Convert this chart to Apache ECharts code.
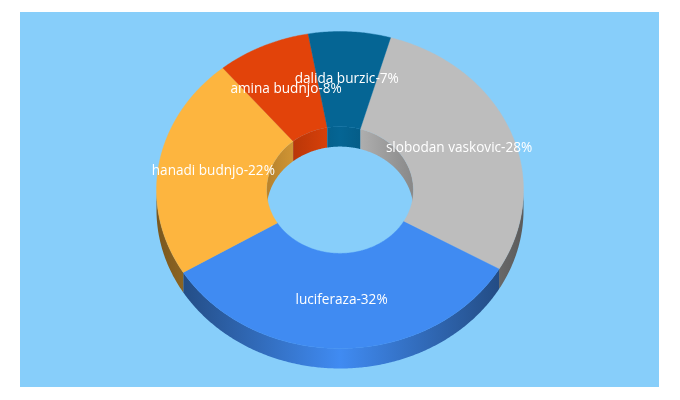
<!DOCTYPE html>
<html>
<head>
<meta charset="utf-8">
<style>html,body{margin:0;padding:0;background:#fff}#main{width:680px;height:400px}</style>
<script src="https://cdn.jsdelivr.net/npm/echarts@6/dist/echarts.min.js"></script>
</head>
<body>
<div id="main"></div>
<script>
var sliceNames = ['slobodan vaskovic', 'luciferaza', 'hanadi budnjo', 'amina budnjo', 'dalida burzic'];
var sliceValues = [28, 32, 22, 8, 7];
var sliceColors = ['#bdbdbd', '#408bf2', '#fdb53f', '#e2430a', '#056594'];

var startAngle = 16, cx = 340, cy = 190, rx = 183.5, ry = 158.5, holeRatio = 0.4, depth = 20;
var total = sliceValues.reduce(function (a, b) { return a + b; }, 0);
var chart = echarts.init(document.getElementById('main'), null, { renderer: 'canvas' });

function shade(hex, f) {
  var n = parseInt(hex.slice(1), 16);
  return 'rgb(' + [n >> 16, (n >> 8) & 255, n & 255].map(function (c) { return Math.round(c * f); }).join(',') + ')';
}
function range(i) {
  var s = 0;
  for (var k = 0; k < i; k++) s += sliceValues[k];
  return [startAngle + s / total * 360, startAngle + (s + sliceValues[i]) / total * 360];
}
function pt(a, k, dy) {
  var t = a * Math.PI / 180;
  return [cx + rx * k * Math.sin(t), cy + (dy || 0) - ry * k * Math.cos(t)];
}
function arc(a0, a1, k, dy) {
  var pts = [], n = Math.max(2, Math.ceil(Math.abs(a1 - a0) * 2));
  for (var i = 0; i <= n; i++) pts.push(pt(a0 + (a1 - a0) * i / n, k, dy));
  return pts;
}
function wallGradient(color, k, edge) {
  return new echarts.graphic.LinearGradient(cx - rx * k, 0, cx + rx * k, 0, [
    { offset: 0, color: shade(color, edge) },
    { offset: 0.5, color: color },
    { offset: 1, color: shade(color, edge) }
  ], true);
}
function wallsFor(i) {
  var r = range(i), c = sliceColors[i], kids = [];
  [[90, 270]].forEach(function (w) {
    var a0 = Math.max(r[0], w[0]), a1 = Math.min(r[1], w[1]);
    if (a1 > a0) kids.push({
      type: 'polygon',
      shape: { points: arc(a0, a1, 1, 0).concat(arc(a1, a0, 1, depth)) },
      style: { fill: wallGradient(c, 1, 0.48) }
    });
  });
  [[-90, 90], [270, 450]].forEach(function (w) {
    var a0 = Math.max(r[0], w[0]), a1 = Math.min(r[1], w[1]);
    if (a1 > a0) kids.push({
      type: 'polygon',
      shape: { points: arc(a0, a1, holeRatio, 0).concat(arc(a1, a0, holeRatio, depth)) },
      style: { fill: wallGradient(c, holeRatio, 0.72) }
    });
  });
  return { type: 'group', children: kids };
}
function topFor(i) {
  var r = range(i);
  return {
    type: 'polygon',
    shape: { points: arc(r[0], r[1], 1, 0).concat(arc(r[1], r[0], holeRatio, 0)) },
    style: { fill: sliceColors[i], stroke: sliceColors[i], lineWidth: 0.4 }
  };
}
function labelFor(i) {
  var r = range(i), p = pt((r[0] + r[1]) / 2, 0.7, -0.5);
  return {
    type: 'text',
    style: {
      text: sliceNames[i] + '-' + sliceValues[i] + '%',
      x: p[0], y: p[1], align: 'center', verticalAlign: 'middle',
      fill: '#ffffff', font: '13.6px "Open Sans"'
    }
  };
}
var seriesData = sliceValues.map(function (v, i) { return [i, v]; });

chart.setOption({
  animation: false,
  backgroundColor: '#ffffff',
  graphic: [{ type: 'rect', z: -10, shape: { x: 20, y: 12, width: 639, height: 375 }, style: { fill: '#87cefa' } }],
  series: [
    { type: 'custom', coordinateSystem: 'none', z: 1, silent: true, data: seriesData,
      renderItem: function (p, api) { return wallsFor(api.value(0)); } },
    { type: 'custom', coordinateSystem: 'none', z: 2, silent: true, data: seriesData,
      renderItem: function (p, api) { return topFor(api.value(0)); } },
    { type: 'custom', coordinateSystem: 'none', z: 3, silent: true, data: seriesData,
      renderItem: function (p, api) { return labelFor(api.value(0)); } }
  ]
});
</script>
</body>
</html>
